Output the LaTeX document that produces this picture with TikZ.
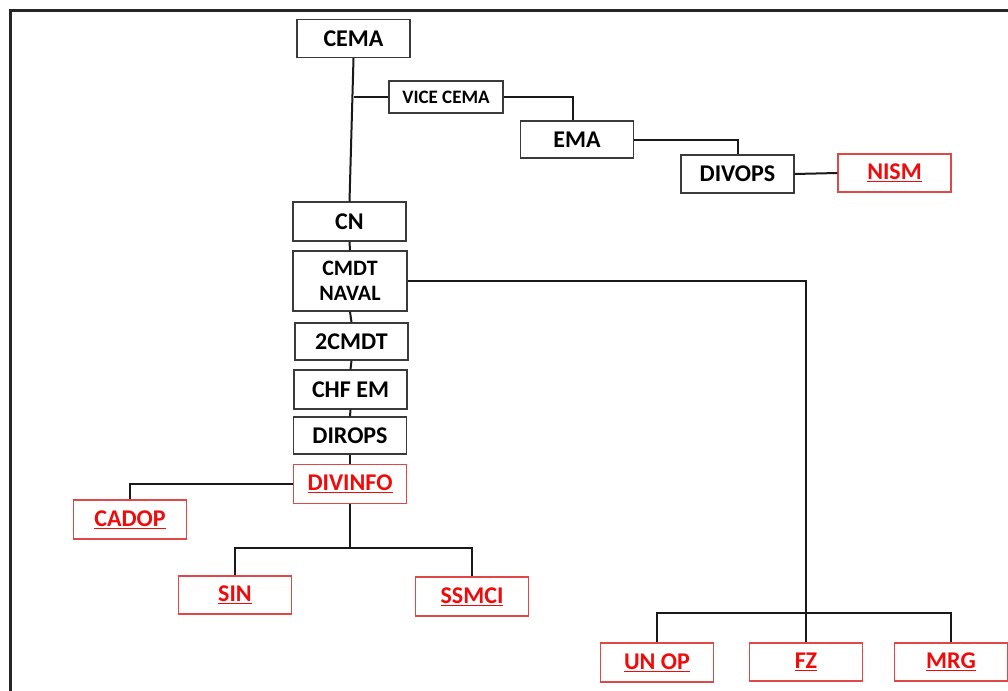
\documentclass[tikz,border=0pt]{standalone}
\usepackage{fontspec}
\setmainfont{Carlito}
\definecolor{boxgray}{HTML}{3A3A3A}
\definecolor{redtxt}{HTML}{F00A0A}
\definecolor{redbox}{HTML}{E04848}
\begin{document}
\begin{tikzpicture}[x=1pt,y=-1pt,
  base/.style={rectangle,minimum width=113pt,minimum height=38pt,inner sep=0pt,line width=1.3pt,font=\fontsize{24}{28}\selectfont\bfseries},
  blk/.style={base,draw=boxgray,text=black},
  redb/.style={base,draw=redbox,text=redtxt},
  conn/.style={draw=black!90,line width=2pt}]
\useasboundingbox (0,0) rectangle (1008,690);
\draw[line width=2.5pt,black!85] (10.5,695) -- (10.5,10.5) -- (1012,10.5);

\node[blk] (cema) at (353.5,38.5) {CEMA};
\node[blk,minimum width=114pt,minimum height=32pt,font=\fontsize{19}{22}\selectfont\bfseries] (vice) at (446,97) {VICE CEMA};
\node[blk,minimum height=37pt] (ema) at (577,139.5) {EMA};
\node[blk] (divops) at (737.5,174) {DIVOPS};
\node[redb] (nism) at (894.5,173) {\underline{NISM}};
\node[blk,minimum height=39pt] (cn) at (349.5,221.5) {CN};
\node[blk,minimum width=114pt,minimum height=60pt,align=center,font=\fontsize{22}{25.5}\selectfont\bfseries] (cmdt) at (350,281) {CMDT\\NAVAL};
\node[blk,minimum height=37pt] (cmdt2) at (351.5,341.5) {2CMDT};
\node[blk,minimum height=39pt] (chf) at (350.5,389.5) {CHF EM};
\node[blk,minimum height=37pt] (dirops) at (350,435.5) {DIROPS};
\node[redb,minimum height=39pt] (divinfo) at (350,484) {\underline{DIVINFO}};
\node[redb,minimum height=39pt] (cadop) at (130,519.5) {\underline{CADOP}};
\node[redb] (sin) at (235,595) {\underline{SIN}};
\node[redb,minimum height=39pt] (ssmci) at (472,596.5) {\underline{SSMCI}};
\node[redb,minimum height=39pt] (unop) at (657,662.5) {\underline{UN OP}};
\node[redb,minimum height=38pt] (fz) at (806,662) {\underline{FZ}};
\node[redb,minimum height=38pt] (mrg) at (951,662) {\underline{MRG}};

\coordinate (b1) at (350,548);
\coordinate (b2) at (806,613);

\draw[conn] (cema.south) -- (cn.north);
\draw[conn] (vice.west) -- (vice.west -| cema.south);
\draw[conn] (vice.east) -| ([xshift=-4pt]ema.north);
\draw[conn] (ema.east) -| (divops.north);
\draw[conn] (divops.east) -- (nism.west);
\draw[conn] (cn.south) -- (cmdt.north);
\draw[conn] (cmdt.south) -- (cmdt2.north);
\draw[conn] (cmdt2.south) -- (chf.north);
\draw[conn] (chf.south) -- (dirops.north);
\draw[conn] (dirops.south) -- (divinfo.north);
\draw[conn] (cmdt.east) -| (b2);
\draw[conn] (unop.north) |- (b2) -| (mrg.north);
\draw[conn] (fz.north) -- (b2);
\draw[conn] (divinfo.west) -| (cadop.north);
\draw[conn] (divinfo.south) -- (b1);
\draw[conn] (sin.north) |- (b1) -| (ssmci.north);
\end{tikzpicture}
\end{document}
